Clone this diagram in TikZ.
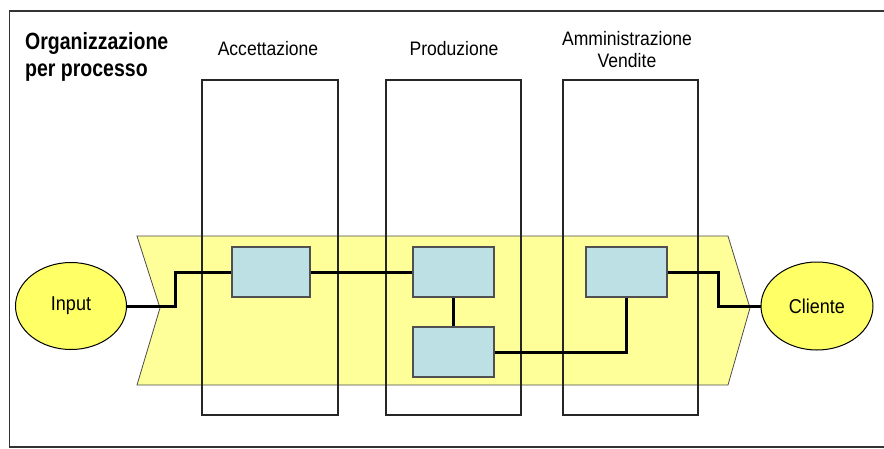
\documentclass[tikz,border=0pt]{standalone}
\usepackage{fontspec}
\setmainfont{Liberation Sans}
\newfontfamily\cond[FakeStretch=0.9]{Liberation Sans}
\newfontfamily\condb[FakeStretch=0.83]{Liberation Sans}
\usetikzlibrary{shapes.geometric}
\definecolor{bandyellow}{HTML}{FFFF99}
\definecolor{ellyellow}{HTML}{FFFF66}
\definecolor{boxblue}{HTML}{BCE0E3}
\definecolor{boxedge}{HTML}{505050}
\tikzset{
  frameline/.style={line width=1.5pt, draw=black!80},
  band/.style={fill=bandyellow, draw=black!70, line width=0.8pt},
  column/.style={draw=black!85, line width=1.1pt},
  procbox/.style={rectangle, fill=boxblue, draw=boxedge, line width=1.3pt, minimum height=50pt, inner sep=0pt},
  endpoint/.style={ellipse, fill=ellyellow, draw=black, line width=1pt, inner sep=0pt, font=\cond\fontsize{20}{22}\selectfont},
  conn/.style={line width=3pt, draw=black},
  lbl/.style={font=\cond\fontsize{19.5}{22}\selectfont, inner sep=0pt, align=center},
  ttl/.style={font=\condb\bfseries\fontsize{23.5}{27}\selectfont, inner sep=0pt, align=left}
}
\begin{document}
\begin{tikzpicture}[x=1pt,y=-1pt]
\useasboundingbox (0,0) rectangle (884,448);
% outer frame (open at right edge)
\draw[frameline] (884,11) -- (9.5,11) -- (9.5,447) -- (884,447);
% process band
\draw[band] (137,236) -- (728,236) -- (750,308) -- (728,385) -- (137,385) -- (160,308) -- cycle;
% columns
\draw[column] (202,80) rectangle (338,415);
\draw[column] (386,80) rectangle (521,415);
\draw[column] (563,80) rectangle (698,415);
% titles
\node[ttl, anchor=north west] (title) at (25,32) {Organizzazione\\per processo};
\node[lbl, anchor=base] (lacc) at (268,55) {Accettazione};
\node[lbl, anchor=base] (lprod) at (454,55) {Produzione};
\node[lbl, anchor=base] (lamm) at (627,67) {Amministrazione\\Vendite};
% boxes
\node[procbox, minimum width=78pt] (b1) at (271,272) {};
\node[procbox, minimum width=81pt] (b2) at (453.5,272) {};
\node[procbox, minimum width=81pt] (b3) at (453.5,352) {};
\node[procbox, minimum width=81pt] (b4) at (626.5,272) {};
% end points
\node[endpoint, minimum width=111pt, minimum height=87pt] (inp) at (71,306) {Input};
\node[endpoint, minimum width=112pt, minimum height=88pt] (cli) at (817,306) {Cliente};
% connectors
\draw[conn] (inp.east) -- ++(48.5,0) |- (b1.west);
\draw[conn] (b1.east) -- (b2.west);
\draw[conn] (b2.south) -- (b3.north);
\draw[conn] (b3.east) -| (b4.south);
\draw[conn] (b4.east) -- ++(51,0) |- (cli.west);
\end{tikzpicture}
\end{document}
